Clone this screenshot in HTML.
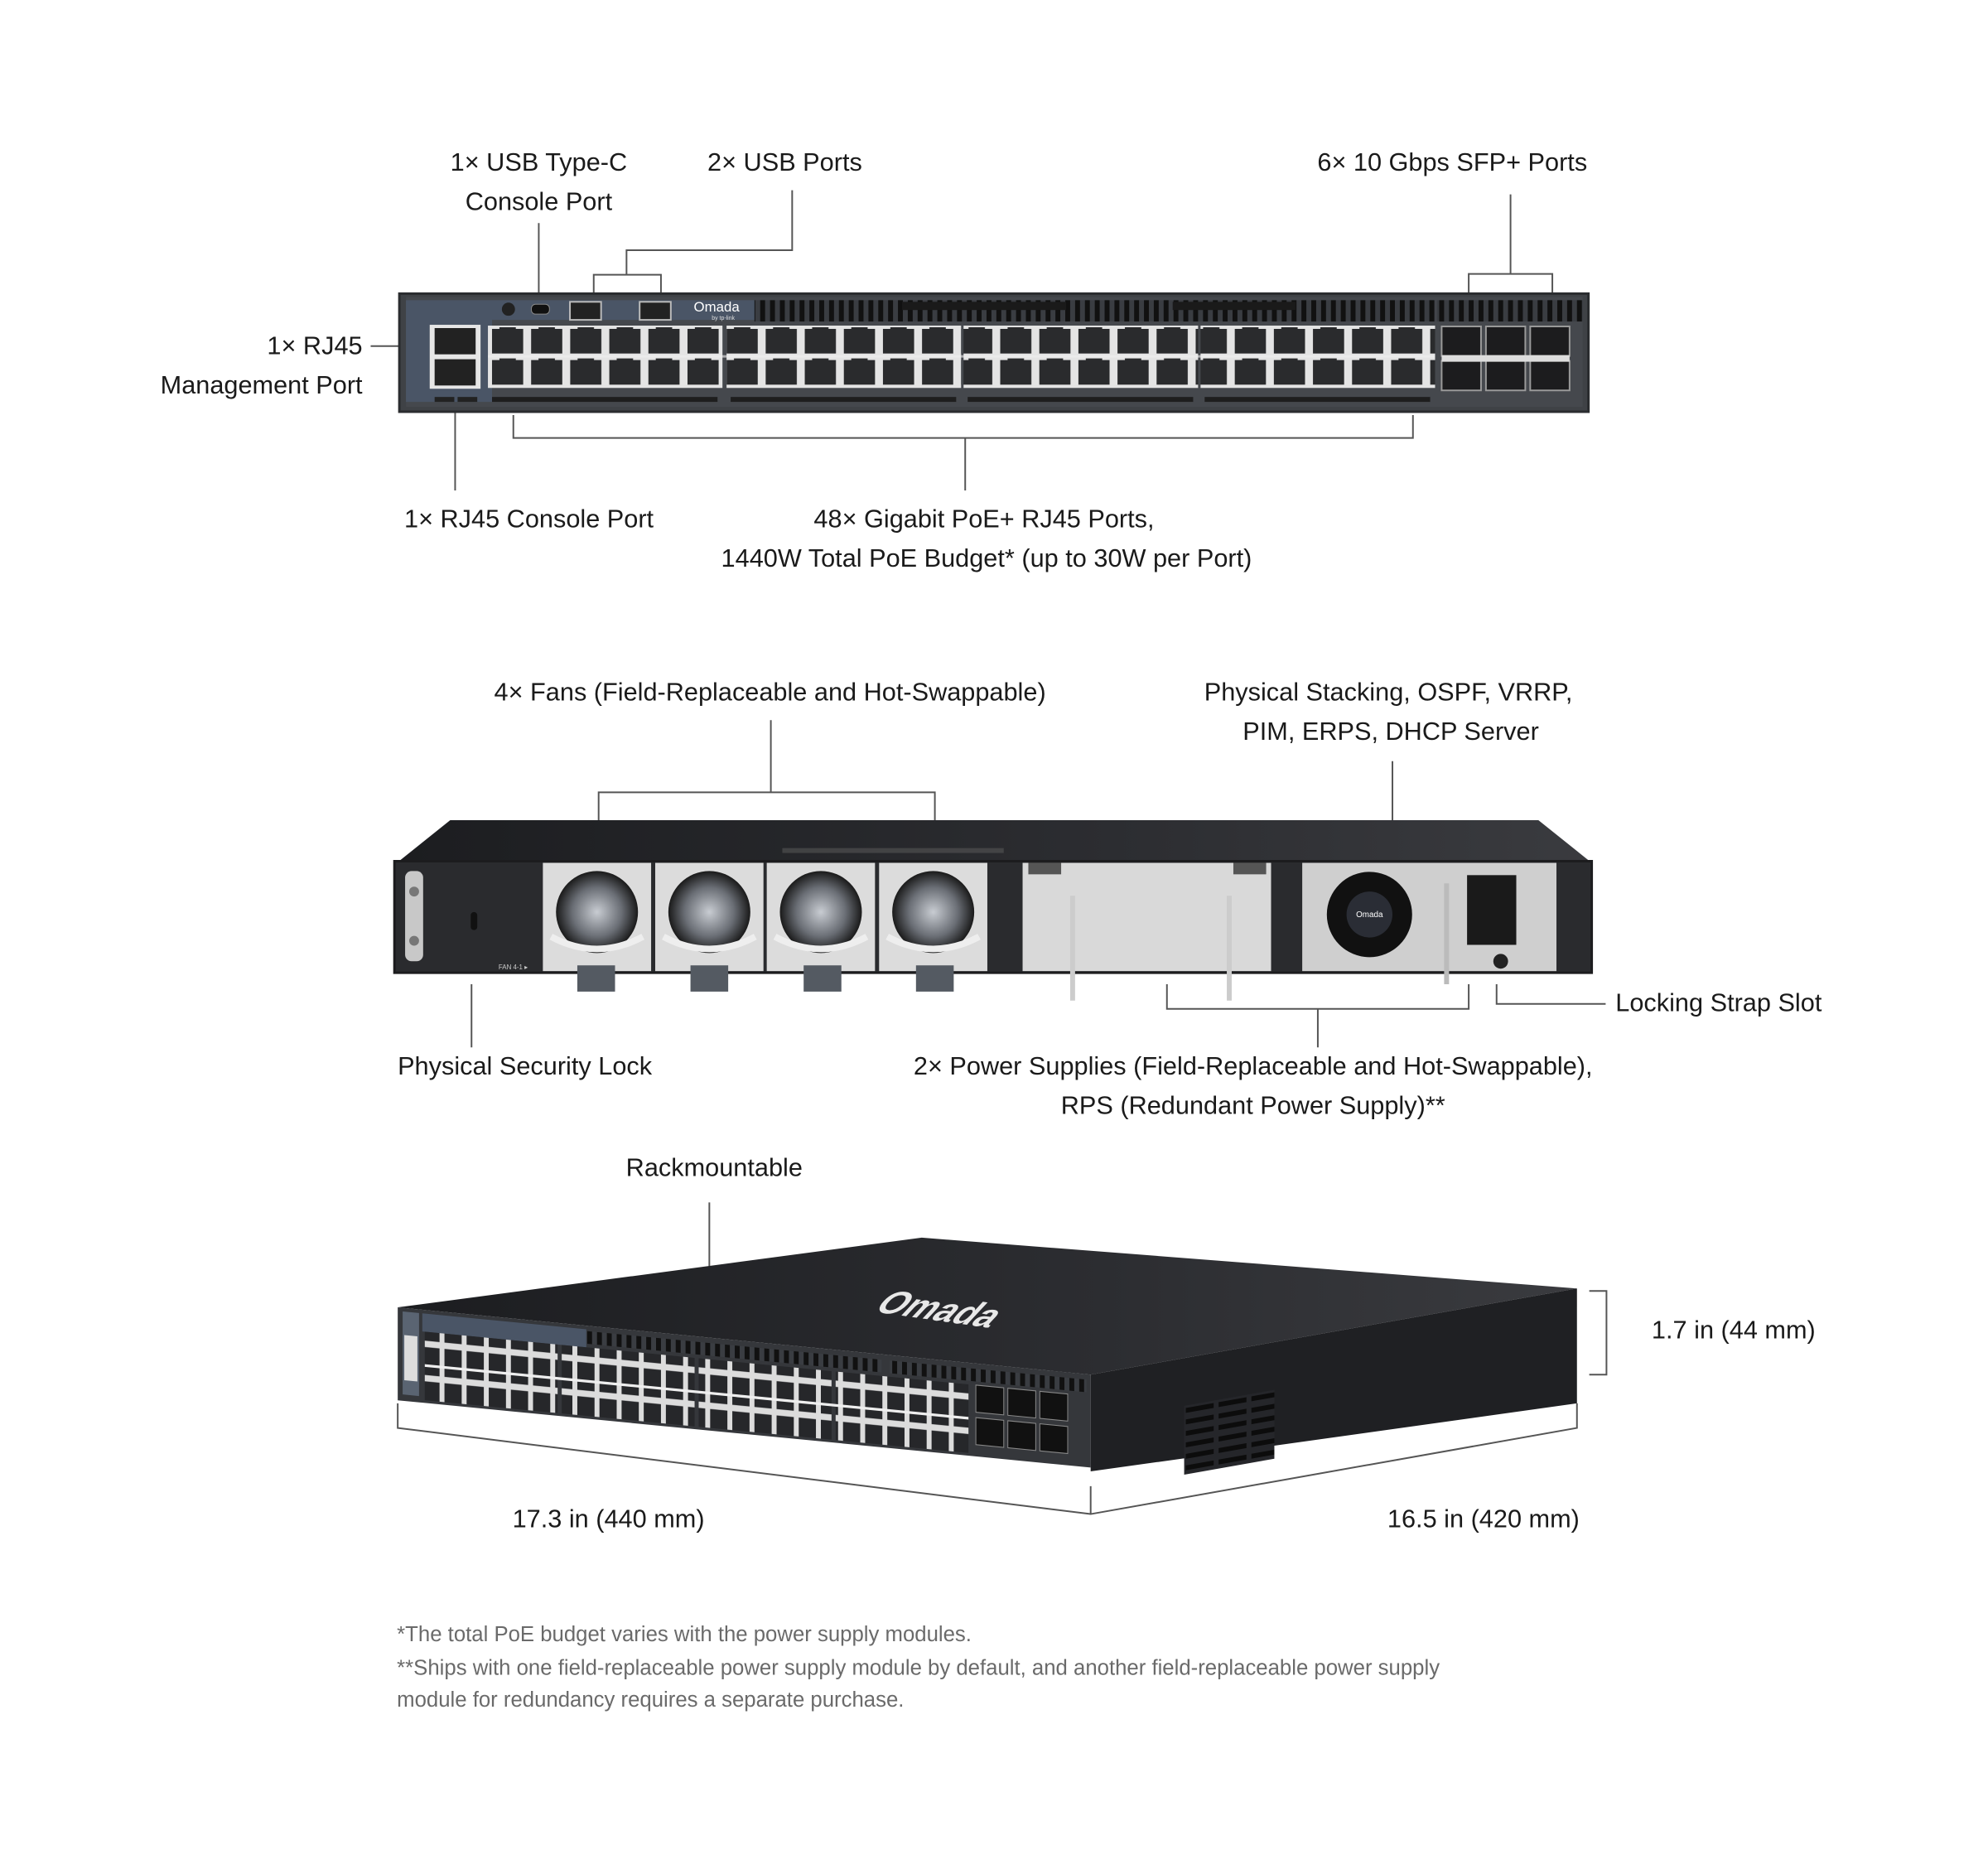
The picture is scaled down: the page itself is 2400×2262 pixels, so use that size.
<!DOCTYPE html>
<html><head><meta charset="utf-8">
<style>
html,body{margin:0;padding:0;background:#fff;}
svg{display:block;}
text{font-family:"Liberation Sans",sans-serif;fill:#1a1a1a;}
.lb{font-size:31px;}
.fn{font-size:26px;fill:#6a6a6a;}
.ln{stroke:#555;stroke-width:2;fill:none;}
</style></head><body>
<svg width="2400" height="2262" viewBox="0 0 2400 2262" xmlns="http://www.w3.org/2000/svg">
<defs>
<pattern id="rj" x="595" y="397" width="47.67" height="38" patternUnits="userSpaceOnUse">
<rect x="0" y="0" width="47.67" height="38" fill="#e4e4e4"/>
<rect x="5" y="4" width="38" height="30" fill="#2a2b2d"/>
<rect x="14" y="2" width="20" height="6" fill="#2a2b2d"/>
</pattern>
<pattern id="rjIso" x="0" y="0" width="27" height="38" patternUnits="userSpaceOnUse">
<rect width="27" height="38" fill="#dcdcdc"/>
<rect x="3" y="3" width="21" height="31" fill="#26272a"/>
</pattern>
<pattern id="vent" x="0" y="0" width="12" height="20" patternUnits="userSpaceOnUse">
<rect width="12" height="20" fill="#3a3d42"/>
<rect x="3" y="0" width="6" height="20" fill="#111"/>
</pattern>
<pattern id="ventSide" x="0" y="0" width="40" height="14" patternUnits="userSpaceOnUse">
<rect width="40" height="14" fill="#25262a"/>
<rect x="2" y="3" width="34" height="6" fill="#0c0c0c"/>
</pattern>
<linearGradient id="topg" x1="0" y1="0" x2="1" y2="0">
<stop offset="0" stop-color="#1c1d20"/><stop offset="0.6" stop-color="#2c2d31"/><stop offset="1" stop-color="#3a3b3f"/>
</linearGradient>
<radialGradient id="fan" cx="0.5" cy="0.5" r="0.5">
<stop offset="0" stop-color="#c8ccd2"/><stop offset="0.6" stop-color="#6a6e75"/><stop offset="1" stop-color="#1a1a1a"/>
</radialGradient>
</defs>
<g transform="scale(0.99)">
<!-- ============ TOP: front panel ============ -->
<text class="lb" x="657" y="208" text-anchor="middle">1× USB Type-C</text>
<text class="lb" x="657" y="256" text-anchor="middle">Console Port</text>
<text class="lb" x="957" y="208" text-anchor="middle">2× USB Ports</text>
<text class="lb" x="1771" y="208" text-anchor="middle">6× 10 Gbps SFP+ Ports</text>
<text class="lb" x="442" y="432" text-anchor="end">1× RJ45</text>
<text class="lb" x="442" y="480" text-anchor="end">Management Port</text>
<text class="lb" x="645" y="643" text-anchor="middle">1× RJ45 Console Port</text>
<text class="lb" x="1200" y="643" text-anchor="middle">48× Gigabit PoE+ RJ45 Ports,</text>
<text class="lb" x="1203" y="691" text-anchor="middle">1440W Total PoE Budget* (up to 30W per Port)</text>

<path class="ln" d="M657 272 V359"/>
<path class="ln" d="M966 232 V305 H764 V335 M724 360 V335 H806 V360"/>
<path class="ln" d="M1842 237 V334 M1791 362 V334 H1893 V362"/>
<path class="ln" d="M452 422 H492"/>
<path class="ln" d="M555 492 V598"/>
<path class="ln" d="M626 506 V534 H1723 V506 M1177 534 V598"/>

<rect x="487" y="358" width="1450" height="144" fill="#3f4246" stroke="#2a2c2f" stroke-width="3"/>
<rect x="495" y="362" width="1435" height="134" fill="#45484d"/>
<path d="M495 366 H920 L930 390 H600 V490 H495 Z" fill="#4a5566"/>
<rect x="920" y="366" width="830" height="26" fill="url(#vent)"/>
<rect x="1752" y="366" width="178" height="26" fill="url(#vent)"/>
<rect x="1100" y="368" width="200" height="10" fill="#1a1a1a"/>
<rect x="1430" y="368" width="150" height="10" fill="#1a1a1a"/>
<circle cx="620" cy="377" r="8" fill="#222"/>
<rect x="648" y="371" width="22" height="12" rx="5" fill="#111" stroke="#888"/>
<rect x="695" y="368" width="38" height="22" fill="#222" stroke="#bbb" stroke-width="2"/>
<rect x="780" y="368" width="38" height="22" fill="#222" stroke="#bbb" stroke-width="2"/>
<text x="846" y="380" style="font-size:17px;fill:#fff">Omada</text>
<text x="868" y="390" style="font-size:7px;fill:#ddd">by tp-link</text>
<rect x="524" y="396" width="62" height="78" fill="#e6e6e6"/>
<rect x="530" y="400" width="50" height="32" fill="#222"/>
<rect x="530" y="438" width="50" height="32" fill="#222"/>
<rect x="530" y="484" width="24" height="6" fill="#222"/>
<rect x="558" y="484" width="24" height="6" fill="#222"/>
<rect x="595" y="397" width="286" height="76" fill="url(#rj)"/>
<rect x="886" y="397" width="286" height="76" fill="url(#rj)"/>
<rect x="1175" y="397" width="286" height="76" fill="url(#rj)"/>
<rect x="1464" y="397" width="286" height="76" fill="url(#rj)"/>
<rect x="595" y="433" width="1155" height="3" fill="#f0f0f0" opacity="0.6"/>
<g fill="#1e1e1e">
<rect x="600" y="484" width="275" height="6"/><rect x="891" y="484" width="275" height="6"/>
<rect x="1180" y="484" width="275" height="6"/><rect x="1469" y="484" width="275" height="6"/>
</g>
<g fill="#1c1c1e" stroke="#9a9a9a" stroke-width="2">
<rect x="1758" y="398" width="48" height="36"/><rect x="1812" y="398" width="48" height="36"/><rect x="1866" y="398" width="48" height="36"/>
<rect x="1758" y="440" width="48" height="36"/><rect x="1812" y="440" width="48" height="36"/><rect x="1866" y="440" width="48" height="36"/>
</g>
<g fill="#ddd"><rect x="1758" y="433" width="156" height="8"/></g>

<!-- ============ MIDDLE: rear ============ -->
<text class="lb" x="939" y="854" text-anchor="middle">4× Fans (Field-Replaceable and Hot-Swappable)</text>
<text class="lb" x="1693" y="854" text-anchor="middle">Physical Stacking, OSPF, VRRP,</text>
<text class="lb" x="1696" y="902" text-anchor="middle">PIM, ERPS, DHCP Server</text>
<text class="lb" x="640" y="1310" text-anchor="middle">Physical Security Lock</text>
<text class="lb" x="1528" y="1310" text-anchor="middle">2× Power Supplies (Field-Replaceable and Hot-Swappable),</text>
<text class="lb" x="1528" y="1358" text-anchor="middle">RPS (Redundant Power Supply)**</text>
<text class="lb" x="1970" y="1233">Locking Strap Slot</text>

<path class="ln" d="M940 878 V966 M730 1005 V966 H1140 V1005"/>
<path class="ln" d="M1698 928 V1002"/>
<path class="ln" d="M575 1200 V1277"/>
<path class="ln" d="M1423 1200 V1230 H1791 V1200 M1607 1230 V1277"/>
<path class="ln" d="M1825 1200 V1224 H1958"/>

<g transform="translate(4,12)">
<path d="M480 1040 L545 988 H1872 L1937 1040 Z" fill="url(#topg)"/>
<rect x="950" y="1022" width="270" height="6" fill="#555" opacity="0.6"/>
<rect x="477" y="1038" width="1460" height="136" fill="#2a2b2e" stroke="#1c1c1e" stroke-width="3"/>
<rect x="490" y="1050" width="22" height="110" rx="8" fill="#c8c8c8"/>
<circle cx="501" cy="1075" r="6" fill="#777"/><circle cx="501" cy="1135" r="6" fill="#777"/>
<rect x="570" y="1100" width="8" height="22" rx="4" fill="#111"/>
<text x="604" y="1170" style="font-size:8px;fill:#ccc">FAN 4-1 ▸</text>
<g>
<rect x="658" y="1040" width="132" height="132" fill="#dcdcdc"/>
<circle cx="724" cy="1100" r="50" fill="url(#fan)"/>
<path d="M668 1130 Q724 1160 780 1130" stroke="#eee" stroke-width="8" fill="none"/>
<rect x="700" y="1165" width="46" height="32" fill="#545a62"/>
<rect x="795" y="1040" width="132" height="132" fill="#dcdcdc"/>
<circle cx="861" cy="1100" r="50" fill="url(#fan)"/>
<path d="M805 1130 Q861 1160 917 1130" stroke="#eee" stroke-width="8" fill="none"/>
<rect x="838" y="1165" width="46" height="32" fill="#545a62"/>
<rect x="931" y="1040" width="132" height="132" fill="#dcdcdc"/>
<circle cx="997" cy="1100" r="50" fill="url(#fan)"/>
<path d="M941 1130 Q997 1160 1053 1130" stroke="#eee" stroke-width="8" fill="none"/>
<rect x="976" y="1165" width="46" height="32" fill="#545a62"/>
<rect x="1068" y="1040" width="132" height="132" fill="#dcdcdc"/>
<circle cx="1134" cy="1100" r="50" fill="url(#fan)"/>
<path d="M1078 1130 Q1134 1160 1190 1130" stroke="#eee" stroke-width="8" fill="none"/>
<rect x="1113" y="1165" width="46" height="32" fill="#545a62"/>
</g>
<rect x="1243" y="1040" width="303" height="132" fill="#d9d9d9"/>
<rect x="1250" y="1040" width="40" height="14" fill="#555"/><rect x="1500" y="1040" width="40" height="14" fill="#555"/>
<path d="M1304 1080 V1208 M1495 1080 V1208" stroke="#ccc" stroke-width="6"/>
<rect x="1584" y="1040" width="310" height="132" fill="#cfcfcf"/>
<circle cx="1666" cy="1103" r="52" fill="#111"/>
<circle cx="1666" cy="1103" r="28" fill="#2a2d35"/>
<text x="1666" y="1106" text-anchor="middle" style="font-size:10px;fill:#fff">Omada</text>
<rect x="1785" y="1055" width="60" height="85" fill="#1a1a1a"/>
<path d="M1760 1065 V1188" stroke="#bbb" stroke-width="6"/>
<circle cx="1826" cy="1160" r="9" fill="#222"/>
</g>

<!-- ============ BOTTOM: isometric ============ -->
<text class="lb" x="871" y="1434" text-anchor="middle">Rackmountable</text>
<text class="lb" x="2114" y="1632" text-anchor="middle">1.7 in (44 mm)</text>
<text class="lb" x="742" y="1862" text-anchor="middle">17.3 in (440 mm)</text>
<text class="lb" x="1809" y="1862" text-anchor="middle">16.5 in (420 mm)</text>
<g transform="translate(4,14)">
<path class="ln" d="M861 1452 V1546"/>
<path class="ln" d="M1934 1560 H1955 V1662 H1934"/>
<path class="ln" d="M481 1697 V1727 L1326 1832 L1919 1727 V1697 M1326 1832 V1798"/>

<polygon points="481,1580 1120,1495 1919,1557 1326,1662" fill="url(#topg)"/>
<text x="0" y="0" transform="translate(1060,1585) rotate(8) skewX(-35)" style="font-size:42px;fill:#e8e8e8;font-weight:bold">Omada</text>
<polygon points="1326,1662 1919,1557 1919,1697 1326,1780" fill="#1f2023"/>
<g transform="matrix(1,-0.177,0,1,1440,1700)"><rect x="0" y="0" width="110" height="84" fill="url(#ventSide)"/></g>
<g transform="matrix(1,0.097,0,1.1,481,1580)">
<rect x="0" y="0" width="845" height="103" fill="#35373b"/>
<rect x="6" y="4" width="20" height="92" fill="#5a6472"/>
<rect x="8" y="30" width="16" height="50" fill="#ddd"/>
<rect x="30" y="4" width="200" height="20" fill="#4a5566"/>
<rect x="230" y="6" width="360" height="14" fill="url(#vent)"/>
<rect x="600" y="6" width="240" height="14" fill="url(#vent)"/>
<rect x="33" y="24" width="162" height="76" fill="url(#rjIso)"/>
<rect x="200" y="24" width="162" height="76" fill="url(#rjIso)"/>
<rect x="367" y="24" width="162" height="76" fill="url(#rjIso)"/>
<rect x="534" y="24" width="162" height="76" fill="url(#rjIso)"/>
<rect x="33" y="60" width="663" height="3" fill="#eee"/>
<g fill="#111" stroke="#888" stroke-width="1">
<rect x="705" y="24" width="34" height="30"/><rect x="744" y="24" width="34" height="30"/><rect x="783" y="24" width="34" height="30"/>
<rect x="705" y="60" width="34" height="30"/><rect x="744" y="60" width="34" height="30"/><rect x="783" y="60" width="34" height="30"/>
</g>
</g>
</g>

<text class="fn" x="484" y="2001">*The total PoE budget varies with the power supply modules.</text>
<text class="fn" x="484" y="2042">**Ships with one field-replaceable power supply module by default, and another field-replaceable power supply</text>
<text class="fn" x="484" y="2081">module for redundancy requires a separate purchase.</text>
</g>
</svg>
</body></html>
